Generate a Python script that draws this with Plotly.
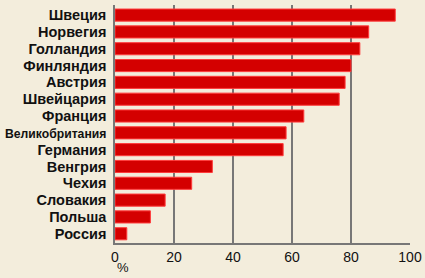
import plotly.graph_objects as go

countries = ["Швеция", "Норвегия", "Голландия", "Финляндия", "Австрия", "Швейцария",
             "Франция", "Великобритания", "Германия", "Венгрия", "Чехия", "Словакия",
             "Польша", "Россия"]
values = [95, 86, 83, 80, 78, 76, 64, 58, 57, 33, 26, 17, 12, 4]
tick_vals = [0, 20, 40, 60, 80, 100]

labels = []
for c in countries:
    if len(c) > 12:
        labels.append("<span style='font-size:12.2px'>" + c + "</span>")
    else:
        labels.append(c)

fig = go.Figure(go.Bar(
    x=values, y=countries, orientation="h",
    marker=dict(color="#d40000", line=dict(color="#ff3b3b", width=1)),
    width=0.72,
))

fig.update_layout(
    width=425, height=278,
    margin=dict(l=115, r=15, t=5, b=35),
    paper_bgcolor="#f3eddc", plot_bgcolor="#f3eddc",
    showlegend=False,
    font=dict(family="Liberation Sans, Arial, sans-serif", color="#111111"),
    annotations=[dict(text="%", x=0, xref="x", xanchor="left", y=-0.065, yref="paper",
                      yanchor="top", showarrow=False, font=dict(size=13, color="#111111"))],
)
fig.update_xaxes(range=[0, 100], tickvals=tick_vals, showgrid=True, gridcolor="#777777",
                 gridwidth=1.5, zeroline=False, showline=True, linecolor="#777777", linewidth=1.5,
                 ticks="", tickfont=dict(size=14), layer="above traces", fixedrange=True,
                 automargin=False)
fig.update_yaxes(categoryorder="array", categoryarray=countries[::-1],
                 tickvals=countries, ticktext=labels,
                 showline=True, linecolor="#777777", linewidth=1.5, ticks="",
                 tickfont=dict(size=14.5, weight="bold"), ticklabelstandoff=4,
                 range=[-0.55, 13.6], fixedrange=True, automargin=False)

fig.write_html("out.html")
